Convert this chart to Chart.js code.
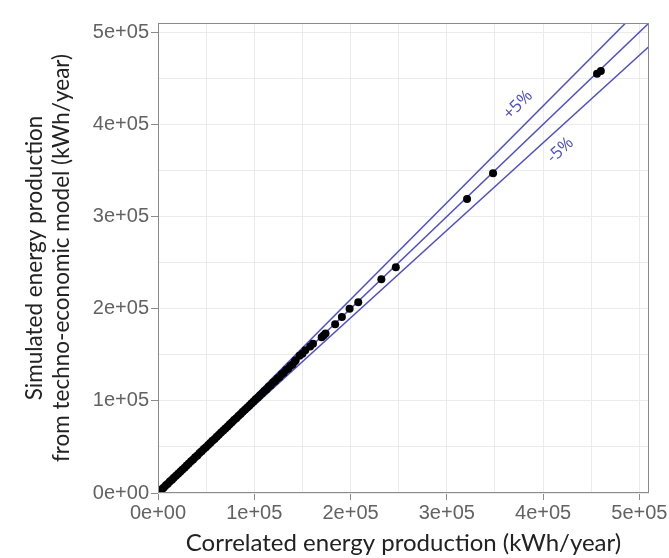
<!DOCTYPE html>
<html>
<head>
<meta charset="utf-8">
<script src="https://cdn.jsdelivr.net/npm/chart.js@4.4.1/dist/chart.umd.min.js"></script>
<style>
  html, body { margin: 0; padding: 0; background: #fff; }
  #wrap { width: 669px; height: 558px; }
</style>
</head>
<body>
<div id="wrap"><canvas id="energyChart" width="669" height="558"></canvas></div>
<script>
// correlated (x) vs simulated (y) energy production, kWh/year
const correlatedKWh = [
  800, 2600, 4300, 6100, 8200, 10100, 12300, 14500, 16400, 18700,
  20900, 23100, 25200, 27600, 29800, 32000, 34300, 36500, 38600, 40900,
  43200, 45300, 47600, 49800, 52100, 54300, 56500, 58800, 61000, 63200,
  65500, 67800, 70000, 72300, 74500, 76800, 79000, 81300, 83500, 85800,
  88000, 90300, 92500, 94800, 97000, 99300, 101500, 103800, 106000, 108300,
  110500, 112800, 115000, 117200, 119500, 121700, 124000, 126200, 128500, 130700,
  133000, 135200, 137500, 139800, 142000, 143000, 147000, 150000, 153000, 158000,
  161000, 170000, 172000, 174000, 184000, 191000, 199000, 208000, 232000, 247000,
  321000, 348000, 456000, 460000
];
const simulatedKWh = [
  900, 2500, 4400, 6000, 8300, 10000, 12400, 14400, 16500, 18600,
  21000, 23000, 25300, 27500, 29900, 31900, 34400, 36400, 38700, 40800,
  43300, 45200, 47700, 49700, 52200, 54200, 56600, 58700, 61100, 63100,
  65600, 67700, 70100, 72200, 74600, 76700, 79100, 81200, 83600, 85700,
  88100, 90200, 92600, 94700, 97100, 99200, 101600, 103700, 106100, 108200,
  110700, 112600, 115200, 117000, 119800, 121400, 124300, 126000, 128900, 130400,
  133400, 134900, 137900, 139500, 142600, 144000, 149000, 151000, 155000, 159000,
  162000, 169000, 171000, 173000, 183000, 191000, 200000, 207000, 232000, 245000,
  319000, 347000, 455000, 458000
];

const axisTicks = [0, 100000, 200000, 300000, 400000, 500000];
const gridTicks = [0, 50000, 100000, 150000, 200000, 250000, 300000, 350000, 400000, 450000, 500000];
const axisMax = 510000;

// y = x, +5 % and -5 % reference lines
const bandFactors = [1, 1.05, 0.95];
const bandLabels = ["", "+5%", "-5%"];
const bandLabelAt = [null, [374000, 421000], [418000, 372000]];

const lineBlue = "#4f4fc6";

function fmt(v) {
  return v.toExponential().replace(/e([+-])(\d)$/, "e$10$2");
}

const points = correlatedKWh.map((x, i) => ({ x: x, y: simulatedKWh[i] }));

const bandSets = bandFactors.map(f => ({
  data: [{ x: 0, y: 0 }, { x: axisMax, y: axisMax * f }],
  showLine: true,
  borderColor: lineBlue,
  borderWidth: 1.5,
  pointRadius: 0,
  order: 1
}));

const frame = {
  id: "frame",
  afterDatasetsDraw(chart) {
    const { ctx, chartArea: a } = chart;
    ctx.save();
    ctx.strokeStyle = "#8a8a8a";
    ctx.lineWidth = 1;
    ctx.strokeRect(a.left + 0.5, a.top + 0.5, a.width - 1, a.height - 1);
    ctx.restore();
  }
};

const bandText = {
  id: "bandText",
  afterDatasetsDraw(chart) {
    const { ctx } = chart;
    const xs = chart.scales.x, ys = chart.scales.y;
    ctx.save();
    ctx.fillStyle = lineBlue;
    ctx.font = "17px 'Open Sans'";
    ctx.textAlign = "center";
    ctx.textBaseline = "middle";
    bandFactors.forEach((f, i) => {
      if (!bandLabelAt[i]) return;
      const ang = Math.atan2(
        ys.getPixelForValue(axisMax * f) - ys.getPixelForValue(0),
        xs.getPixelForValue(axisMax) - xs.getPixelForValue(0)
      );
      ctx.save();
      ctx.translate(xs.getPixelForValue(bandLabelAt[i][0]), ys.getPixelForValue(bandLabelAt[i][1]));
      ctx.rotate(ang);
      ctx.fillText(bandLabels[i], 0, 0);
      ctx.restore();
    });
    ctx.restore();
  }
};

const tickFont = { family: "'Liberation Sans', Arial", size: 20 };
const tickMark = c => axisTicks.includes(c.tick.value) ? "#8a8a8a" : "rgba(0,0,0,0)";

new Chart(document.getElementById("energyChart"), {
  type: "scatter",
  data: {
    datasets: [
      {
        data: points,
        backgroundColor: "#000",
        borderWidth: 0,
        pointRadius: 4,
        order: 0
      },
      ...bandSets
    ]
  },
  options: {
    responsive: false,
    animation: false,
    layout: { padding: { left: 0, top: 23, right: 20, bottom: 0 } },
    plugins: { legend: { display: false }, tooltip: { enabled: false } },
    scales: {
      x: {
        type: "linear",
        min: 0,
        max: axisMax,
        afterBuildTicks: s => { s.ticks = gridTicks.map(v => ({ value: v })); },
        afterFit: s => { s.height = 65; },
        border: { display: false },
        grid: { color: "#ebebeb", tickLength: 7, tickColor: tickMark },
        ticks: {
          autoSkip: false, maxRotation: 0, padding: 1, color: "#626262", font: tickFont,
          callback: v => axisTicks.includes(v) ? fmt(v) : ""
        },
        title: {
          display: true,
          text: "Correlated energy production (kWh/year)",
          color: "#222",
          font: { family: "Lato", size: 24 },
          padding: { top: 0, bottom: 0 }
        }
      },
      y: {
        type: "linear",
        min: 0,
        max: axisMax,
        afterBuildTicks: s => { s.ticks = gridTicks.map(v => ({ value: v })); },
        afterFit: s => { s.width = 158; },
        border: { display: false },
        grid: { color: "#ebebeb", tickLength: 7, tickColor: tickMark },
        ticks: {
          autoSkip: false, padding: 2, color: "#626262", font: tickFont,
          callback: v => axisTicks.includes(v) ? fmt(v) : ""
        },
        title: {
          display: true,
          text: ["Simulated energy production", "from techno-economic model (kWh/year)"],
          color: "#222",
          font: { family: "Lato", size: 22.5 },
          padding: { top: 21, bottom: 0 }
        }
      }
    }
  },
  plugins: [frame, bandText]
});
</script>
</body>
</html>
